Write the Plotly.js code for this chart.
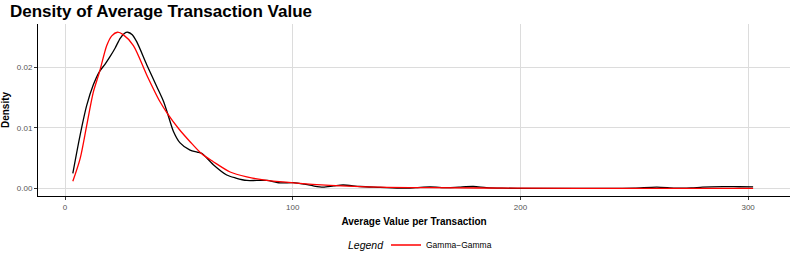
<!DOCTYPE html>
<html>
<head>
<meta charset="utf-8">
<script src="https://cdn.plot.ly/plotly-3.0.1.min.js"></script>
<style>html,body{margin:0;padding:0;background:#fff;}#chart{width:793px;height:263px;}</style>
</head>
<body>
<div id="chart"></div>
<script>
// Empirical density (black)
const empX = [3.4, 6.6, 9.5, 12.4, 15.1, 17.5, 19.8, 22.0, 24.2, 26.0, 27.5, 29.5, 31.5, 35.9, 40.3, 43.2, 45.5, 47.6, 50.5, 54.9, 58.0, 60.0, 65.1, 71.0, 75.0, 79.8, 84.0, 88.6, 94.4, 100.3, 105.0, 109.0, 113.3, 118.0, 122.1, 129.6, 138.3, 148.4, 154.0, 160.3, 168.0, 173.0, 179.3, 185.0, 192.0, 200.0, 220.0, 240.0, 250.0, 259.9, 268.0, 275.0, 280.0, 289.0, 296.0, 302.2];
const empY = [0.00248, 0.0088, 0.0137, 0.0171, 0.0193, 0.0205, 0.0218, 0.0232, 0.0248, 0.0256, 0.0258, 0.0254, 0.0242, 0.0204, 0.0168, 0.0144, 0.0118, 0.0094, 0.0075, 0.0063, 0.0060, 0.0058, 0.0039, 0.0022, 0.0017, 0.0013, 0.0013, 0.0013, 0.0009, 0.00095, 0.0007, 0.0004, 0.0002, 0.0004, 0.00055, 0.0003, 0.00017, 0.00002, 0.0001, 0.00022, 0.0001, 0.0002, 0.0003, 0.0001, 0.00002, 0.0, 0.0, 0.0, 0.00003, 0.0002, 0.00003, 0.00005, 0.0002, 0.00028, 0.00026, 0.00025];

// Fitted Gamma-Gamma density (red)
const fitX = [3.4, 6.6, 9.5, 12.4, 15.1, 18.3, 20.5, 23.0, 25.5, 30.0, 35.9, 41.7, 44.9, 50.0, 54.9, 60.0, 65.1, 72.5, 79.8, 88.6, 100.3, 116.4, 138.3, 160.0, 200.0, 250.0, 302.2];
const fitY = [0.00116, 0.0049, 0.0104, 0.0159, 0.0192, 0.0236, 0.0252, 0.0258, 0.0254, 0.0236, 0.0187, 0.0143, 0.0124, 0.0098, 0.0077, 0.0057, 0.0044, 0.0027, 0.0019, 0.0013, 0.0009, 0.0005, 0.0002, 0.0001, 0.00002, 0.0, 0.0];

const xTicks = [0, 100, 200, 300];
const yTicks = [0, 0.01, 0.02];
const titleText = 'Density of Average Transaction Value';
const xTitle = 'Average Value per Transaction';
const yTitle = 'Density';
const legendTitle = 'Legend';
const seriesName = 'Gamma\u2212Gamma';

const FONT = 'Liberation Sans, Arial, sans-serif';

const traces = [
  {x: empX, y: empY, type: 'scatter', mode: 'lines', line: {color: '#000000', width: 1.3, shape: 'spline', smoothing: 0.8}, showlegend: false, hoverinfo: 'skip'},
  {x: fitX, y: fitY, type: 'scatter', mode: 'lines', name: seriesName, line: {color: '#ff0000', width: 1.3, shape: 'spline', smoothing: 0.8}}
];

const axisCommon = {
  showgrid: true, gridcolor: '#dcdcdc', gridwidth: 1,
  zeroline: false, showline: true, linecolor: '#000000', linewidth: 1,
  ticks: 'outside', ticklen: 3, tickcolor: '#333333', tickwidth: 1,
  tickfont: {family: FONT, size: 8, color: '#555555'}
};

const PW = 793 - 38 - 3;
const layout = {
  width: 793, height: 263,
  margin: {l: 38, r: 3, t: 24, b: 67},
  paper_bgcolor: '#ffffff', plot_bgcolor: '#ffffff',
  title: {text: '<b>' + titleText + '</b>', font: {family: FONT, size: 17, color: '#000000'},
          xref: 'container', yref: 'container', x: 10/793, xanchor: 'left', y: 1 - 11/263, yanchor: 'middle'},
  xaxis: Object.assign({}, axisCommon, {
    range: [-11.9, 318.4], tickvals: xTicks, ticktext: xTicks.map(String),
    title: {text: '<b>' + xTitle + '</b>', font: {family: FONT, size: 10, color: '#000000'}, standoff: 7}
  }),
  yaxis: Object.assign({}, axisCommon, {
    range: [-0.00127, 0.02716], tickvals: yTicks, tickformat: '.2f',
    title: {text: '<b>' + yTitle + '</b>', font: {family: FONT, size: 10, color: '#000000'}, standoff: 6}
  }),
  legend: {
    orientation: 'h', x: (386 - 38) / PW, xanchor: 'left', y: -0.285, yanchor: 'middle',
    font: {family: FONT, size: 8.5, color: '#000000'},
    itemwidth: 30
  },
  annotations: [{
    text: '<i>' + legendTitle + '</i>', xref: 'paper', yref: 'paper',
    x: (386 - 38) / PW, xanchor: 'right', y: -0.285, yanchor: 'middle',
    showarrow: false, font: {family: FONT, size: 10.5, color: '#000000'}
  }],
  showlegend: true
};

Plotly.newPlot('chart', traces, layout, {displayModeBar: false, staticPlot: true});
</script>
</body>
</html>
